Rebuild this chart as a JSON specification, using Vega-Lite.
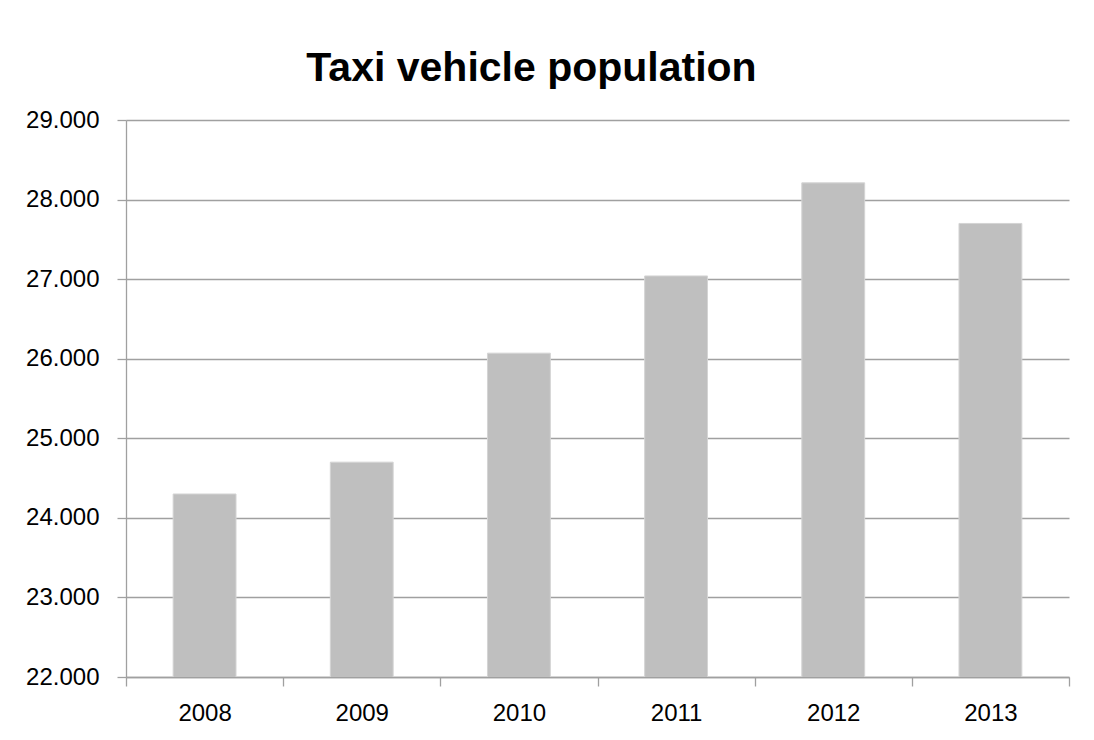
{
  "$schema": "https://vega.github.io/schema/vega-lite/v6.json",
  "width": 943,
  "height": 557,
  "autosize": {"type": "none"},
  "padding": {"left": 126, "top": 120, "right": 25, "bottom": 63},
  "background": "#ffffff",
  "title": {
    "text": "Taxi vehicle population",
    "font": "Liberation Sans",
    "fontSize": 41,
    "fontWeight": "bold",
    "color": "#000000",
    "anchor": "middle",
    "dx": -66,
    "baseline": "alphabetic",
    "offset": -14
  },
  "data": {
    "values": [
      {"year": "2008", "taxis": 24300},
      {"year": "2009", "taxis": 24700},
      {"year": "2010", "taxis": 26070},
      {"year": "2011", "taxis": 27040},
      {"year": "2012", "taxis": 28210},
      {"year": "2013", "taxis": 27700}
    ]
  },
  "mark": {"type": "bar", "color": "#bfbfbf", "stroke": "#d4d4d4", "strokeWidth": 1, "clip": true, "width": {"band": 0.4}},
  "encoding": {
    "x": {
      "field": "year",
      "type": "ordinal",
      "scale": {"paddingInner": 0, "paddingOuter": 0},
      "axis": {
        "title": null,
        "labelAngle": 0,
        "tickBand": "extent",
        "tickSize": 9,
        "labelPadding": 15,
        "grid": false
      }
    },
    "y": {
      "field": "taxis",
      "type": "quantitative",
      "scale": {"domain": [22000, 29000], "nice": false, "zero": false},
      "axis": {
        "title": null,
        "values": [22000, 23000, 24000, 25000, 26000, 27000, 28000, 29000],
        "format": ",.0f",
        "tickSize": 9,
        "labelPadding": 18,
        "grid": true
      }
    }
  },
  "config": {
    "locale": {"number": {"decimal": ",", "thousands": ".", "grouping": [3], "currency": ["", " €"]}},
    "view": {"stroke": null},
    "axis": {
      "labelFont": "Liberation Sans",
      "labelFontSize": 24,
      "labelColor": "#000000",
      "domainColor": "#a0a0a0",
      "domainWidth": 1.3,
      "tickColor": "#a0a0a0",
      "tickWidth": 1.3,
      "gridColor": "#a0a0a0",
      "gridWidth": 1.3,
      "gridOpacity": 1
    }
  }
}
